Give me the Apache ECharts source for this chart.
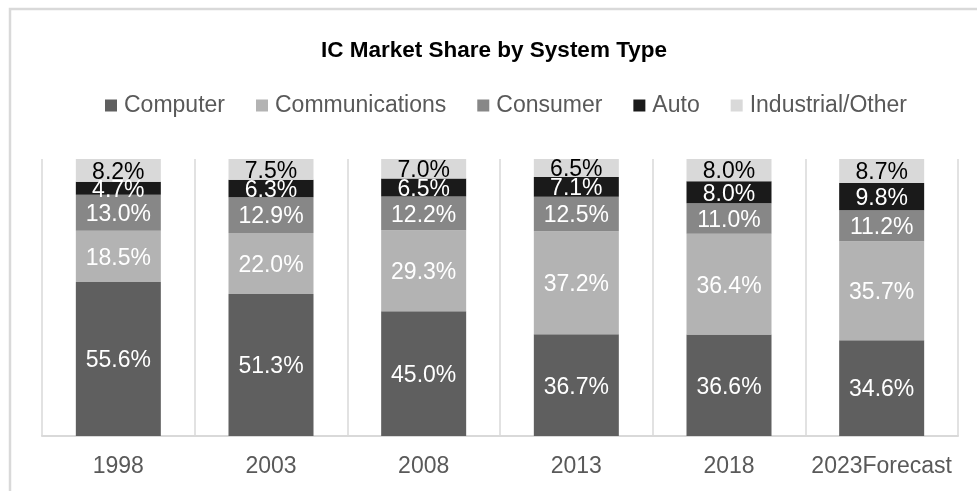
<!DOCTYPE html>
<html>
<head>
<meta charset="utf-8">
<script src="https://cdn.jsdelivr.net/npm/echarts@6/dist/echarts.min.js"></script>
<style>html,body{margin:0;padding:0;background:#fff;}#c{width:977px;height:491px;}</style>
</head>
<body>
<div id="c"></div>
<script>
const categories = ['1998', '2003', '2008', '2013', '2018', '2023Forecast'];
const computer = [55.6, 51.3, 45.0, 36.7, 36.6, 34.6];
const communications = [18.5, 22.0, 29.3, 37.2, 36.4, 35.7];
const consumer = [13.0, 12.9, 12.2, 12.5, 11.0, 11.2];
const auto = [4.7, 6.3, 6.5, 7.1, 8.0, 9.8];
const industrial = [8.2, 7.5, 7.0, 6.5, 8.0, 8.7];

const font = '"Liberation Sans", Arial, sans-serif';
function mk(name, data, color, labelColor) {
  return {
    name: name, type: 'bar', stack: 'total', data: data, barWidth: 85,
    itemStyle: { color: color },
    label: {
      show: true, position: 'inside', color: labelColor, offset: [0, 2],
      fontFamily: font, fontSize: 23,
      formatter: p => p.value.toFixed(1) + '%'
    },
    emphasis: { disabled: true }
  };
}
const chart = echarts.init(document.getElementById('c'));
chart.setOption({
  animation: false,
  backgroundColor: '#fff',
  graphic: [{
    type: 'rect', shape: { x: 10, y: 9, width: 1200, height: 800 },
    style: { fill: 'none', stroke: '#d9d9d9', lineWidth: 2.5 }, silent: true, z: -10
  }],
  title: {
    text: 'IC Market Share by System Type', left: 489, top: 34, textAlign: 'center',
    textStyle: { fontFamily: font, fontSize: 22.5, fontWeight: 'bold', color: '#000' }
  },
  legend: {
    left: 100, top: 89, itemWidth: 12, itemHeight: 12, itemGap: 31, icon: 'rect',
    textStyle: { fontFamily: font, fontSize: 23, color: '#595959', padding: [0, 0, 0, 2] },
    selectedMode: false
  },
  grid: { left: 42, right: 19, top: 159, bottom: 55 },
  xAxis: {
    type: 'category', data: categories,
    axisLine: { lineStyle: { color: '#d9d9d9', width: 2 } },
    axisTick: { show: false },
    splitLine: { show: true, lineStyle: { color: '#d9d9d9', width: 1.5 } },
    axisLabel: { fontFamily: font, fontSize: 23, color: '#595959', margin: 19, interval: 0 }
  },
  yAxis: { type: 'value', min: 0, max: 100, show: false, splitLine: { show: false } },
  series: [
    mk('Computer', computer, '#5f5f5f', '#fff'),
    mk('Communications', communications, '#b3b3b3', '#fff'),
    mk('Consumer', consumer, '#878787', '#fff'),
    mk('Auto', auto, '#1a1a1a', '#fff'),
    mk('Industrial/Other', industrial, '#d9d9d9', '#000')
  ]
});
</script>
</body>
</html>
